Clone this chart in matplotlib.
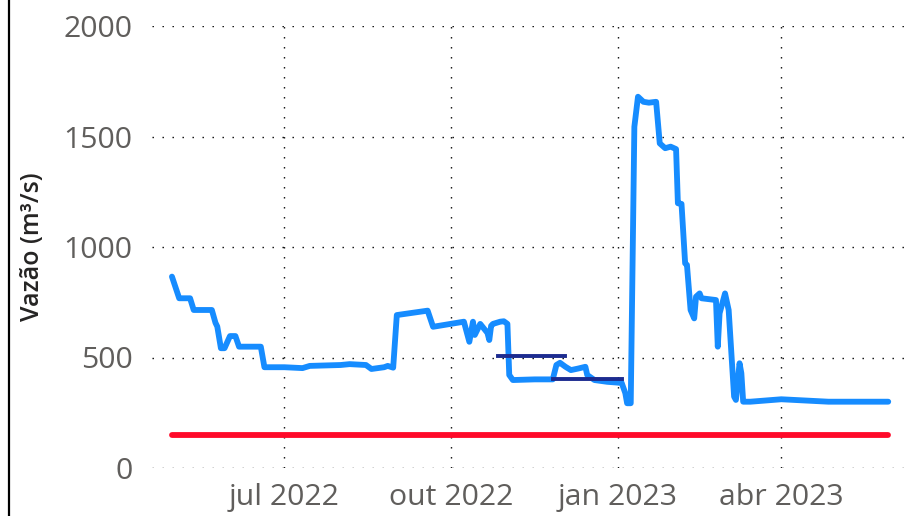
import numpy as np
import pandas as pd
import matplotlib
matplotlib.use("Agg")
import matplotlib.pyplot as plt
import matplotlib.dates as mdates
from matplotlib.lines import Line2D

plt.rcParams['font.family'] = ['Open Sans', 'DejaVu Sans']

# vazão diária (m³/s)
datas = [
    "2022-04-30", "2022-05-04", "2022-05-10", "2022-05-12", "2022-05-22", "2022-05-24",
    "2022-05-25", "2022-05-27", "2022-05-29", "2022-06-01", "2022-06-04", "2022-06-06",
    "2022-06-18", "2022-06-20", "2022-07-01", "2022-07-11", "2022-07-15", "2022-08-01",
    "2022-08-06", "2022-08-15", "2022-08-18", "2022-08-25", "2022-08-27", "2022-08-30",
    "2022-09-01", "2022-09-18", "2022-09-21", "2022-10-08", "2022-10-11", "2022-10-13",
    "2022-10-14", "2022-10-17", "2022-10-21", "2022-10-22", "2022-10-23", "2022-10-24",
    "2022-10-28", "2022-10-30", "2022-11-01", "2022-11-02", "2022-11-04", "2022-11-16",
    "2022-11-26", "2022-11-28", "2022-11-30", "2022-12-03", "2022-12-06", "2022-12-10",
    "2022-12-14", "2022-12-15", "2022-12-19", "2022-12-26", "2023-01-03", "2023-01-05",
    "2023-01-06", "2023-01-08", "2023-01-10", "2023-01-12", "2023-01-15", "2023-01-18",
    "2023-01-22", "2023-01-24", "2023-01-27", "2023-01-30", "2023-02-02", "2023-02-03",
    "2023-02-05", "2023-02-07", "2023-02-08", "2023-02-10", "2023-02-12", "2023-02-13",
    "2023-02-15", "2023-02-16", "2023-02-24", "2023-02-25", "2023-02-26", "2023-03-01",
    "2023-03-03", "2023-03-06", "2023-03-07", "2023-03-09", "2023-03-10", "2023-03-11",
    "2023-03-15", "2023-04-01", "2023-04-27", "2023-05-30",
]
vazao = [
    866, 768, 768, 715, 715, 657,
    640, 542, 542, 597, 597, 549,
    549, 456, 456, 452, 462, 466,
    470, 466, 448, 456, 462, 454,
    692, 712, 639, 662, 571, 662,
    602, 652, 611, 579, 643, 652,
    662, 664, 652, 421, 398, 401,
    401, 466, 476, 458, 443, 450,
    458, 421, 398, 390, 385, 339,
    293, 293, 1544, 1680, 1657, 1653,
    1657, 1469, 1447, 1454, 1443, 1198,
    1195, 926, 919, 715, 677, 775,
    790, 768, 760, 549, 700, 790,
    715, 323, 308, 474, 429, 300,
    300, 311, 300, 300,
]

# vazão mínima de referência
ref_datas = ["2022-04-30", "2023-05-30"]
ref_vazao = [150, 150]

# médias de período
media1_datas = ["2022-10-27", "2022-12-03"]
media1_vazao = [505, 505]
media2_datas = ["2022-11-26", "2023-01-03"]
media2_vazao = [402, 402]

tick_datas = ["2022-07-01", "2022-10-01", "2023-01-01", "2023-04-01"]
tick_labels = ["jul 2022", "out 2022", "jan 2023", "abr 2023"]

fig = plt.figure(figsize=(9.1, 5.16), dpi=100)
ax = fig.add_axes([152 / 910, 48 / 516, 1 - 152 / 910, 442 / 516])

ax.plot(pd.to_datetime(ref_datas), ref_vazao, color='#ff0a2a', lw=4.2,
        solid_capstyle='round', zorder=3)
ax.plot(pd.to_datetime(datas), vazao, color='#168cff', lw=4.2,
        solid_joinstyle='round', solid_capstyle='round', zorder=4)
ax.plot(pd.to_datetime(media1_datas), media1_vazao, color='#1c2b8f', lw=2.8, zorder=5)
ax.plot(pd.to_datetime(media2_datas), media2_vazao, color='#1c2b8f', lw=2.8, zorder=5)

ax.set_xlim(pd.Timestamp("2022-04-19"), pd.Timestamp("2023-06-11"))
ax.set_ylim(0, 2000)
ax.set_yticks([0, 500, 1000, 1500, 2000])
ax.set_xticks(mdates.date2num(pd.to_datetime(tick_datas)))
ax.set_xticklabels(tick_labels)

ax.grid(True, color='black', lw=1.0, linestyle=(0, (1, 6.2)))
ax.set_axisbelow(True)
for s in ax.spines.values():
    s.set_visible(False)
ax.tick_params(length=0, labelsize=21.8, labelcolor='#605e5c')
ax.tick_params(axis='y', pad=14)
ax.tick_params(axis='x', pad=11)

ax.set_ylabel("Vazão (m³/s)", fontsize=18, fontweight='semibold', color='#252423')
ax.yaxis.set_label_coords(-(152 - 45) / 758, 0.5)

fig.add_artist(Line2D([8.5 / 910, 8.5 / 910], [0, 1], color='black', lw=1.6))

fig.savefig("out.png", dpi=100)
